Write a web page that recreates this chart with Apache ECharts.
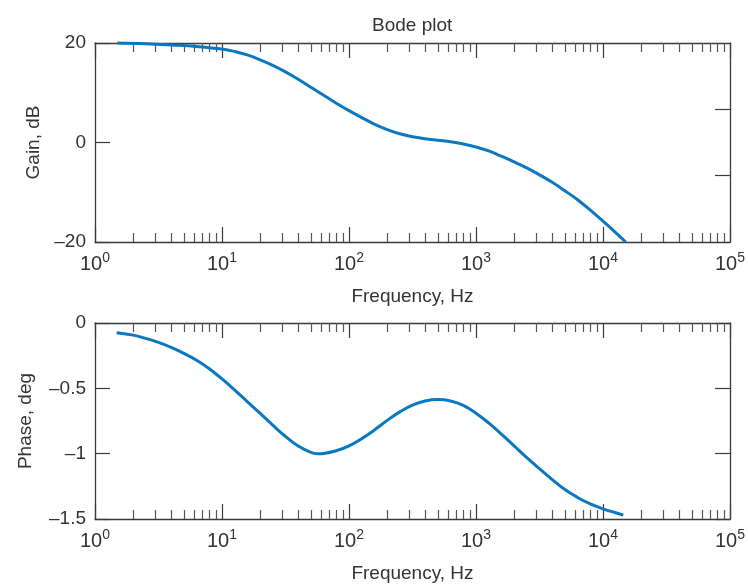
<!DOCTYPE html>
<html>
<head>
<meta charset="utf-8">
<script src="https://cdn.jsdelivr.net/npm/echarts@6/dist/echarts.min.js"></script>
<style>
html,body{margin:0;padding:0;background:#fff;}
#chart{width:748px;height:584px;}
</style>
</head>
<body>
<div id="chart"></div>
<script>
// ---- data ----
const titleText = 'Bode plot';
const xName = 'Frequency, Hz';
const gainName = 'Gain, dB';
const phaseName = 'Phase, deg';

const freqGain = [1.5, 2.5, 4, 6.3, 10, 12.6, 15.8, 20, 25.1, 31.6, 39.8, 50.1, 63.1, 79.4, 100, 126, 158, 200, 251, 316, 398, 501, 631, 794, 1000, 1259, 1585, 1995, 2512, 3162, 3981, 5012, 6310, 7943, 10000, 12589, 15100];
const gainDb   = [20.0, 19.85, 19.6, 19.3, 18.8, 18.3, 17.6, 16.6, 15.5, 14.2, 12.7, 11.1, 9.5, 7.9, 6.4, 5.0, 3.7, 2.6, 1.75, 1.15, 0.75, 0.45, 0.15, -0.3, -0.9, -1.7, -2.75, -3.9, -5.1, -6.5, -8.0, -9.7, -11.5, -13.6, -15.8, -18.1, -20.0];

const freqPhase = [1.48, 2, 2.51, 3.16, 3.98, 5.01, 6.31, 7.94, 10, 12.6, 15.8, 20, 25.1, 31.6, 39.8, 50.1, 56.2, 63.1, 79.4, 100, 126, 158, 200, 251, 316, 398, 501, 631, 794, 1000, 1259, 1585, 1995, 2512, 3162, 3981, 5012, 6310, 7943, 10000, 12589, 14450];
const phaseDeg  = [-0.074, -0.093, -0.118, -0.148, -0.186, -0.232, -0.285, -0.35, -0.428, -0.513, -0.601, -0.692, -0.782, -0.868, -0.942, -0.99, -1.0, -0.998, -0.978, -0.94, -0.885, -0.82, -0.745, -0.68, -0.628, -0.597, -0.586, -0.597, -0.63, -0.69, -0.765, -0.85, -0.94, -1.03, -1.115, -1.198, -1.275, -1.335, -1.385, -1.422, -1.452, -1.47];

const xMajorTicks = [1, 10, 100, 1000, 10000, 100000];
const xMinorTicks = [];
for (let d = 0; d < 5; d++) for (let k = 2; k <= 9; k++) xMinorTicks.push(k * Math.pow(10, d));

const gainTicks = [-20, 0, 20];
const gainRightTicks = [-20/3, 20/3];
const phaseTicks = [-1.5, -1, -0.5, 0];

// ---- styling ----
const FONT = '"Liberation Sans", Arial, sans-serif';
const TXT = '#333';
const AX = '#3a3a3a';
const LINE = '#0a78c0';

const dash = v => String(v).replace('-', '\u2013');

function xAxesFor(gi) {
  const base = {
    type: 'log', logBase: 10, min: 1, max: 100000, gridIndex: gi,
    splitLine: {show: false}
  };
  return [
    Object.assign({}, base, {
      position: 'bottom',
      axisLine: {show: true, onZero: false, lineStyle: {color: AX, width: 1.3}},
      axisTick: {show: true, inside: true, length: 15, customValues: xMajorTicks, lineStyle: {color: AX, width: 1.2}},
      axisLabel: {
        show: true, margin: 9, customValues: xMajorTicks,
        showMinLabel: true, showMaxLabel: true,
        formatter: v => '{b|10}{s|' + Math.round(Math.log10(v)) + '}',
        rich: {
          b: {fontSize: 20, fontFamily: FONT, color: TXT, verticalAlign: 'bottom', lineHeight: 23},
          s: {fontSize: 14, fontFamily: FONT, color: TXT, verticalAlign: 'top', lineHeight: 15}
        }
      },
      name: xName, nameLocation: 'middle', nameGap: 45,
      nameTextStyle: {fontSize: 19, fontFamily: FONT, color: TXT}
    }),
    Object.assign({}, base, {
      position: 'bottom',
      axisLine: {show: false, onZero: false},
      axisTick: {show: true, inside: true, length: 9, customValues: xMinorTicks, lineStyle: {color: '#555', width: 1.2}},
      axisLabel: {show: false}
    }),
    Object.assign({}, base, {
      position: 'top',
      axisLine: {show: true, onZero: false, lineStyle: {color: AX, width: 1.3}},
      axisTick: {show: true, inside: true, length: 15, customValues: xMajorTicks, lineStyle: {color: AX, width: 1.2}},
      axisLabel: {show: false}
    }),
    Object.assign({}, base, {
      position: 'top',
      axisLine: {show: false, onZero: false},
      axisTick: {show: true, inside: true, length: 9, customValues: xMinorTicks, lineStyle: {color: '#555', width: 1.2}},
      axisLabel: {show: false}
    })
  ];
}

const yLabelStyle = {fontSize: 19, fontFamily: FONT, color: TXT, margin: 9};

const option = {
  animation: false,
  backgroundColor: '#fff',
  title: {
    text: titleText, left: 367, top: 11,
    textStyle: {fontSize: 19, fontWeight: 'normal', fontFamily: FONT, color: TXT}
  },
  grid: [
    {left: 95, right: 16, top: 43, height: 199},
    {left: 95, right: 16, top: 323, height: 198}
  ],
  xAxis: [].concat(xAxesFor(0), xAxesFor(1)),
  yAxis: [
    {
      type: 'value', gridIndex: 0, position: 'left', min: -20, max: 20, interval: 20,
      axisLine: {show: true, onZero: false, lineStyle: {color: AX, width: 1.3}},
      axisTick: {show: true, inside: true, length: 15, customValues: gainTicks, lineStyle: {color: AX, width: 1.2}},
      axisLabel: Object.assign({formatter: dash, customValues: gainTicks}, yLabelStyle),
      splitLine: {show: false},
      name: gainName, nameLocation: 'middle', nameGap: 52,
      nameTextStyle: {fontSize: 19, fontFamily: FONT, color: TXT}
    },
    {
      type: 'value', gridIndex: 0, position: 'right', min: -20, max: 20, interval: 20,
      axisLine: {show: true, onZero: false, lineStyle: {color: AX, width: 1.3}},
      axisTick: {show: true, inside: true, length: 15, customValues: gainRightTicks, lineStyle: {color: AX, width: 1.2}},
      axisLabel: {show: false},
      splitLine: {show: false}
    },
    {
      type: 'value', gridIndex: 1, position: 'left', min: -1.5, max: 0, interval: 0.5,
      axisLine: {show: true, onZero: false, lineStyle: {color: AX, width: 1.3}},
      axisTick: {show: true, inside: true, length: 15, customValues: phaseTicks, lineStyle: {color: AX, width: 1.2}},
      axisLabel: Object.assign({formatter: dash, customValues: phaseTicks}, yLabelStyle),
      splitLine: {show: false},
      name: phaseName, nameLocation: 'middle', nameGap: 60,
      nameTextStyle: {fontSize: 19, fontFamily: FONT, color: TXT}
    },
    {
      type: 'value', gridIndex: 1, position: 'right', min: -1.5, max: 0, interval: 0.5,
      axisLine: {show: true, onZero: false, lineStyle: {color: AX, width: 1.3}},
      axisTick: {show: true, inside: true, length: 15, customValues: phaseTicks, lineStyle: {color: AX, width: 1.2}},
      axisLabel: {show: false},
      splitLine: {show: false}
    }
  ],
  series: [
    {
      type: 'line', xAxisIndex: 0, yAxisIndex: 0, smooth: 0.4, symbol: 'none',
      lineStyle: {color: LINE, width: 3}, clip: false,
      data: freqGain.map((f, i) => [f, gainDb[i]])
    },
    {
      type: 'line', xAxisIndex: 4, yAxisIndex: 2, smooth: 0.4, symbol: 'none',
      lineStyle: {color: LINE, width: 3}, clip: false,
      data: freqPhase.map((f, i) => [f, phaseDeg[i]])
    }
  ]
};

const chart = echarts.init(document.getElementById('chart'), null, {renderer: 'canvas'});
chart.setOption(option);
</script>
</body>
</html>
